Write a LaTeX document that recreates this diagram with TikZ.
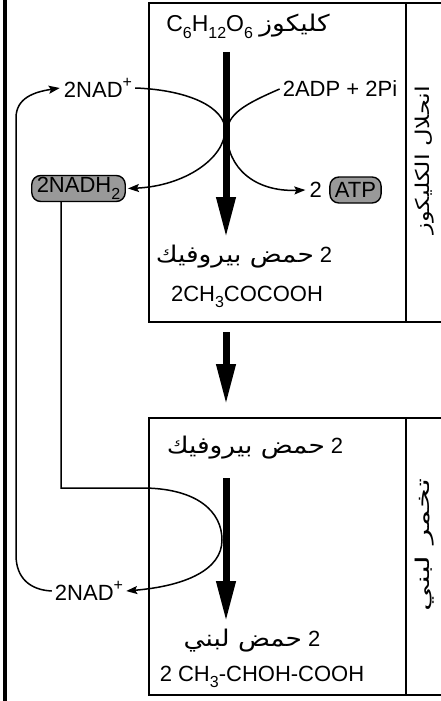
\documentclass[tikz,border=0pt]{standalone}
\usepackage{fontspec}
\setmainfont{Liberation Sans}
\newfontfamily\arabicfont[Script=Arabic]{DejaVu Sans}
\TeXXeTstate=1
\usetikzlibrary{arrows.meta}
\newcommand\lsub[1]{\raisebox{-0.3em}{\fontsize{16}{16}\selectfont #1}}
\newcommand\lsup[1]{\raisebox{0.45em}{\fontsize{16}{16}\selectfont #1}}
\newcommand\artext[1]{\scalebox{1.15}[1]{\arabicfont\fontsize{23}{25}\selectfont #1}}
\newcommand\sidetext[2]{\scalebox{#1}[1]{\arabicfont\fontsize{19}{21}\selectfont #2}}
\begin{document}
\begin{tikzpicture}[x=1pt,y=-1pt,
  txt/.style={font=\fontsize{22}{24}\selectfont, inner sep=0pt},
  pill/.style={draw, line width=1.4pt, fill=black!40, rounded corners=9pt, minimum height=26pt, inner xsep=5pt, inner ysep=0pt, font=\fontsize{22}{24}\selectfont},
  box/.style={line width=1.8pt},
  conn/.style={line width=1.5pt},
  tip/.style={-{Stealth[length=11pt,width=8pt,inset=2pt]}},
  bigarrow/.style={line width=7pt, -{Triangle[length=41pt,width=18pt]}},
  side/.style={rotate=90, inner sep=0pt}
]
\useasboundingbox (0,0) rectangle (441,701);
% left border
\draw[line width=3.5pt] (4.8,-2) -- (4.8,703);
% boxes
\draw[box] (149,3) rectangle (406,322);
\draw[box] (406,3) -- (445,3) (406,322) -- (445,322);
\draw[box] (149,418) rectangle (406,695);
\draw[box] (406,418) -- (445,418) (406,695) -- (445,695);
% side labels
\node[side] (lab1) at (425,160) {\sidetext{1.27}{\beginR انحلال الكليكوز\endR}};
\node[side] (lab2) at (425,545) {\sidetext{1.7}{\beginR تخمر لبني\endR}};
% texts top box
\node[txt] (glu) at (248,26) {\fontsize{23}{25}\selectfont C\lsub{6}H\lsub{12}O\lsub{6} \artext{\beginR كليكوز\endR}};
\node[txt] (pyr1) at (244,257) {\artext{\beginR حمض بيروفيك\endR} 2};
\node[txt] (pyrf) at (247,297) {2CH\lsub{3}COCOOH};
\node[txt] (nadtop) at (98,88) {2NAD\lsup{+}};
\node[txt] (adp) at (340,89) {2ADP + 2Pi};
\node[pill] (nadh) at (78.5,188.5) {2NADH\lsub{2}};
\node[pill] (atp) at (355.5,190) {ATP};
\node[txt, anchor=east] (two) at (322,190) {2};
% texts bottom box
\node[txt] (pyr2) at (255,448) {\artext{\beginR حمض بيروفيك\endR} 2};
\node[txt] (lac) at (252,641) {\artext{\beginR حمض لبني\endR} 2};
\node[txt] (lacf) at (262,677) {2 CH\lsub{3}-CHOH-COOH};
\node[txt] (nadbot) at (89,591) {2NAD\lsup{+}};
% big arrows
\coordinate (s1) at (226,52);
\coordinate (e1) at (226,238);
\coordinate (s2) at (226,332);
\coordinate (e2) at (226,405);
\coordinate (s3) at (226,478);
\coordinate (e3) at (226,622);
\draw[bigarrow] (s1) -- (e1);
\draw[bigarrow] (s2) -- (e2);
\draw[bigarrow] (s3) -- (e3);
% top X curves
\coordinate (x1) at (225,130);
\coordinate (x2) at (227,133);
\draw[conn,tip] ([xshift=3pt]nadtop.east) .. controls (190,90) and (225,108) .. (x1)
   .. controls (225,158) and (185,186) .. ([xshift=2pt]nadh.east);
\draw[conn,tip] ([xshift=-3pt]adp.west) .. controls (245,104) and (227,114) .. (x2)
   .. controls (227,168) and (255,192) .. ([xshift=-4pt]two.west);
% NADH loop down
\coordinate (c1) at (61,488);
\coordinate (c2) at (145,488);
\coordinate (c3) at (222,540);
\draw[conn,tip] (nadh.south -| c1) -- (c1) -- (c2) .. controls (198,489) and (222,512) .. (c3)
   .. controls (222,570) and (185,586) .. ([xshift=3pt]nadbot.east);
% outer recycling loop
\coordinate (d1) at (16,555);
\coordinate (d2) at (16,118);
\draw[conn,tip] ([xshift=-3pt]nadbot.west) .. controls (30,590) and (16,578) .. (d1) -- (d2)
   .. controls (16,98) and (34,92) .. ([xshift=-4pt]nadtop.west);
\end{tikzpicture}
\end{document}
